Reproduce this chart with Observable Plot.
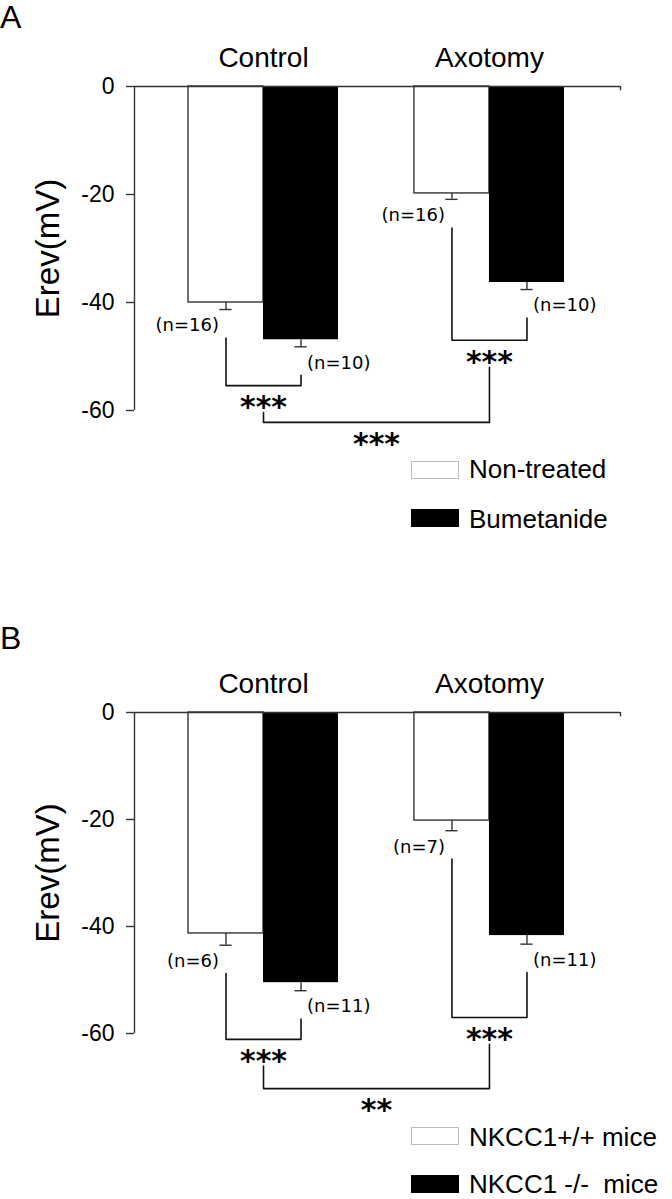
<!DOCTYPE html>
<html><head><meta charset="utf-8">
<script src="https://cdn.jsdelivr.net/npm/d3@7"></script>
<script src="https://cdn.jsdelivr.net/npm/@observablehq/plot@0.6"></script>
<style>
body{margin:0;background:#fff;}
#page{position:relative;width:672px;height:1199px;overflow:hidden;font-family:"Liberation Sans",Arial,sans-serif;color:#000;}
.abs{position:absolute;}
.letter{position:absolute;left:0;font-size:32px;line-height:1.1;}
.sw{position:absolute;left:411px;width:48px;height:18px;box-sizing:border-box;}
.lt{position:absolute;left:469px;width:200px;font-size:26px;line-height:1;white-space:pre;}
</style></head>
<body><div id="page"></div>
<script>
// ---------- data ----------
const groups = ["Control", "Axotomy"];
const yTicks = [0, -20, -40, -60];

// Panel A
const seriesA = ["Non-treated", "Bumetanide"];
const meanA_nonTreated = [-40.0, -19.8];
const meanA_bumetanide = [-46.9, -36.3];
const semA_nonTreated = [1.3, 1.1];
const semA_bumetanide = [1.3, 1.3];
const nA_nonTreated = [16, 16];
const nA_bumetanide = [10, 10];
const sigA = ["***", "***", "***"];          // Control pair, Axotomy pair, Control vs Axotomy
const sigDepthA = [-55.4, -47.0, -62.2];     // bracket depth (mV)

// Panel B
const seriesB = ["NKCC1+/+ mice", "NKCC1 -/-  mice"];
const meanB_wt = [-41.3, -20.2];
const meanB_ko = [-50.5, -41.7];
const semB_wt = [2.2, 1.9];
const semB_ko = [1.5, 1.6];
const nB_wt = [6, 7];
const nB_ko = [11, 11];
const sigB = ["***", "***", "**"];
const sigDepthB = [-61.1, -57.0, -70.3];

// ---------- layout constants ----------
const BAR = 0.332;      // bar width in group units
const CAP = 0.027;      // half width of error cap
const GAP = 5.3;        // gap between error bar end and bracket end (mV)
const GAP2 = 5.0;       // gap between sub-bracket and outer bracket end (mV)
const XDOM = [-0.571, 1.58];
const FONT = "'Liberation Sans', Arial, sans-serif";
const FONT2 = "'DejaVu Sans', Verdana, sans-serif";

function buildRows(means, sems, ns) {
  const rows = [];
  groups.forEach((g, gi) => {
    means.forEach((m, ti) => {
      rows.push({group: g, gi, ti, mean: m[gi], sem: sems[ti][gi], n: ns[ti][gi],
        x1: gi + (ti - 1) * BAR, x2: gi + ti * BAR, xc: gi + (ti - 0.5) * BAR});
    });
  });
  return rows;
}

function buildBrackets(rows, sig, depth) {
  const br = [];
  groups.forEach((g, gi) => {
    const a = rows.find(r => r.gi === gi && r.ti === 0);
    const b = rows.find(r => r.gi === gi && r.ti === 1);
    br.push({id: gi, xL: a.xc, xR: b.xc, topL: a.mean - a.sem - GAP, topR: b.mean - b.sem - GAP, level: depth[gi], sig: sig[gi]});
  });
  br.push({id: 2, xL: 0, xR: 1, topL: depth[0] - GAP2, topR: depth[1] - GAP2, level: depth[2], sig: sig[2]});
  const pts = br.flatMap(b => [
    {id: b.id, x: b.xL, y: b.topL},
    {id: b.id, x: b.xL, y: b.level},
    {id: b.id, x: b.xR, y: b.level},
    {id: b.id, x: b.xR, y: b.topR}
  ]);
  return {br, pts};
}

function panel(rows, brackets, height, marginBottom) {
  const {br, pts} = brackets;
  const ax = "#333";
  return Plot.plot({
    width: 672, height, marginTop: 86, marginBottom, marginLeft: 134, marginRight: 52,
    style: {fontFamily: FONT, color: "#000", background: "transparent", overflow: "visible"},
    x: {type: "linear", domain: XDOM},
    y: {domain: [yTicks[yTicks.length - 1], yTicks[0]]},
    marks: [
      Plot.rectY(rows.filter(r => r.ti === 0), {x1: "x1", x2: "x2", y1: 0, y2: "mean", fill: "#fff", stroke: ax, strokeWidth: 1.4}),
      Plot.rectY(rows.filter(r => r.ti === 1), {x1: "x1", x2: "x2", y1: 0, y2: "mean", fill: "#000"}),
      Plot.ruleX(rows, {x: "xc", y1: "mean", y2: r => r.mean - r.sem, stroke: ax, strokeWidth: 1.4}),
      Plot.ruleY(rows, {y: r => r.mean - r.sem, x1: r => r.xc - CAP, x2: r => r.xc + CAP, stroke: ax, strokeWidth: 1.4}),
      Plot.ruleX([XDOM[0]], {y1: yTicks[0], y2: yTicks[yTicks.length - 1], stroke: ax, strokeWidth: 1.4}),
      Plot.ruleY([0], {stroke: ax, strokeWidth: 1.4}),
      Plot.ruleX([XDOM[1]], {y1: 0, y2: -0.8, stroke: ax, strokeWidth: 1.4}),
      Plot.axisY({ticks: yTicks, tickFormat: d => String(d), tickSize: 8, tickPadding: 12, fontSize: 23, label: null, stroke: ax, strokeWidth: 1.4}),
      Plot.axisX({anchor: "top", ticks: [0, 1], tickFormat: i => groups[i], tickSize: 0, tickPadding: 20, fontSize: 28, label: null}),
      Plot.text(["Erev(mV)"], {frameAnchor: "left", text: d => d, textAnchor: "middle", rotate: -90, dx: -86, fontSize: 33}),
      Plot.line(pts, {x: "x", y: "y", z: "id", stroke: "#111", strokeWidth: 1.6}),
      Plot.text(br, {x: b => (b.xL + b.xR) / 2, y: "level", text: "sig", fontFamily: FONT2, fontWeight: "bold", fontSize: 30, dy: 22}),
      Plot.text(rows.filter(r => r.ti === 0), {x: "xc", y: r => r.mean - r.sem, text: r => `(n=${r.n})`, textAnchor: "end", dx: -7, dy: 16, fontFamily: FONT2, fontSize: 18}),
      Plot.text(rows.filter(r => r.ti === 1), {x: "xc", y: r => r.mean - r.sem, text: r => `(n=${r.n})`, textAnchor: "start", dx: 6, dy: 16, fontFamily: FONT2, fontSize: 18})
    ]
  });
}

const page = document.getElementById("page");
function add(html, cls, style) {
  const d = document.createElement("div");
  if (cls) d.className = cls;
  d.style.cssText = style;
  d.textContent = html;
  page.appendChild(d);
  return d;
}

// Panel A
const rowsA = buildRows([meanA_nonTreated, meanA_bumetanide], [semA_nonTreated, semA_bumetanide], [nA_nonTreated, nA_bumetanide]);
const chartA = panel(rowsA, buildBrackets(rowsA, sigA, sigDepthA), 460, 50);
const wrapA = add("", "abs", "top:0;left:0;");
wrapA.appendChild(chartA);
add("A", "letter", "top:0px;");
add("", "sw", "top:461px;background:#fff;border:1px solid #bbb;");
add(seriesA[0], "lt", "top:456px;");
add("", "sw", "top:509px;background:#000;");
add(seriesA[1], "lt", "top:506px;");

// Panel B
const rowsB = buildRows([meanB_wt, meanB_ko], [semB_wt, semB_ko], [nB_wt, nB_ko]);
const chartB = panel(rowsB, buildBrackets(rowsB, sigB, sigDepthB), 495, 88);
const wrapB = add("", "abs", "top:626px;left:0;");
wrapB.appendChild(chartB);
add("B", "letter", "top:621px;");
add("", "sw", "top:1127px;background:#fff;border:1px solid #bbb;");
add(seriesB[0], "lt", "top:1124px;");
add("", "sw", "top:1175px;background:#000;");
add(seriesB[1], "lt", "top:1171px;");
</script></body></html>
